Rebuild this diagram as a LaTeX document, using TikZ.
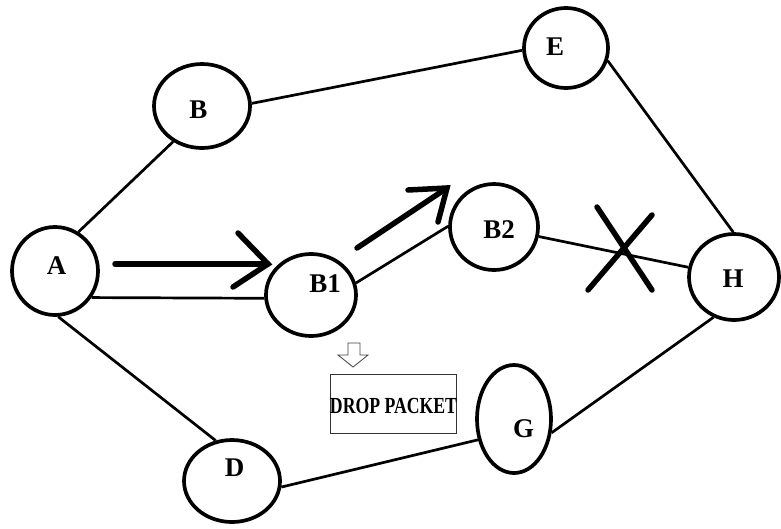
\documentclass[tikz,border=0pt]{standalone}
\usepackage{fontspec}
\usepackage{graphicx}
\setmainfont{Liberation Serif}
\usetikzlibrary{shapes.geometric}
\begin{document}
\begin{tikzpicture}[x=1pt,y=-1pt,
  router/.style={draw, ellipse, line width=3.7pt, inner sep=0pt},
  link/.style={line width=2.7pt},
  lbl/.style={font=\fontsize{27}{27}\selectfont\bfseries, inner sep=0pt, anchor=center},
  bigarrow/.style={line width=5.5pt, line cap=round, line join=miter},
  hollow/.style={line width=0.8pt, draw=black!75},
  dropbox/.style={draw=black!80, line width=0.8pt, inner sep=0pt}
]
\useasboundingbox (0,0) rectangle (781,528);

% routers
\node[router, minimum width=86pt, minimum height=88pt] (A)  at (55,271) {};
\node[router, minimum width=96pt, minimum height=84pt] (B)  at (202,106) {};
\node[router, minimum width=84pt, minimum height=80pt] (E)  at (566,48) {};
\node[router, minimum width=90pt, minimum height=82pt] (B1) at (311,295) {};
\node[router, minimum width=88pt, minimum height=86pt] (B2) at (494,227) {};
\node[router, minimum width=90pt, minimum height=86pt] (H)  at (734,277) {};
\node[router, minimum width=74pt, minimum height=108pt] (G) at (514,419) {};
\node[router, minimum width=96pt, minimum height=82pt] (D)  at (232,481) {};

% labels
\node[lbl] (tA)  at (56.5,266) {A};
\node[lbl] (tB)  at (198.5,109.5) {B};
\node[lbl] (tE)  at (555,47) {E};
\node[lbl] (tB1) at (325,284) {B1};
\node[lbl] (tB2) at (499,230) {B2};
\node[lbl] (tH)  at (733,279) {H};
\node[lbl] (tG)  at (523.5,429) {G};
\node[lbl] (tD)  at (234.5,468) {D};

% links
\draw[link] (A.59) -- (B.231);
\draw[link] (B.3) -- (E.183);
\draw[link] (E.-17) -- (H.91);
\draw[link] (A.-36) -- (B1.184);
\draw[link] (B1.15) -- (B2.179);
\draw[link] (B2.-12) -- (H.168);
\draw[link] (A.-86) -- (D.112);
\draw[link] (D.-7) -- (G.210);
\draw[link] (G.-20) -- (H.243);

% thick arrows
\coordinate (a1s) at (115,264);
\coordinate (a1t) at (268,264);
\coordinate (a1u) at (238,233);
\coordinate (a1l) at (233,287);
\draw[bigarrow] (a1s) -- (a1t);
\draw[bigarrow] (a1u) -- (a1t) -- (a1l);

\coordinate (a2s) at (357,248);
\coordinate (a2t) at (447,188);
\coordinate (a2u) at (408,190);
\coordinate (a2l) at (438,222);
\draw[bigarrow] (a2s) -- (a2t);
\draw[bigarrow] (a2u) -- (a2t) -- (a2l);

% cross
\coordinate (x1a) at (597,207);
\coordinate (x1b) at (652,290);
\coordinate (x2a) at (652,215);
\coordinate (x2b) at (588,290);
\draw[bigarrow] (x1a) -- (x1b);
\draw[bigarrow] (x2a) -- (x2b);

% hollow arrow
\draw[hollow] (348,343) -- (360,343) -- (360,355) -- (368,355) -- (353,367)
  -- (338,355) -- (348,355) -- cycle;

% drop packet box
\node[dropbox, minimum width=126pt, minimum height=59pt] (drop) at (393,403.5) {};
\node[font=\fontsize{23}{23}\selectfont\bfseries, inner sep=0pt] (droptxt) at (393.5,406)
  {\scalebox{0.77}[1]{DROP PACKET}};
\end{tikzpicture}
\end{document}
